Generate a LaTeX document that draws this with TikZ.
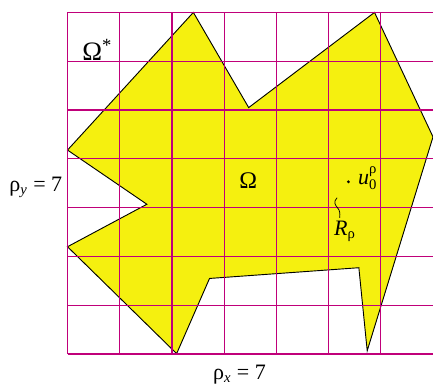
\documentclass[tikz,border=0pt]{standalone}
\usepackage{amsmath}
\usepackage{fontspec}
\setmainfont{Liberation Serif}
\usetikzlibrary{positioning}
\definecolor{gridline}{HTML}{C0007A}
\definecolor{region}{HTML}{F5F00F}

\begin{document}
\begin{tikzpicture}[x=1cm,y=0.935cm,font=\fontsize{12}{14}\selectfont,
  lbl/.style={inner sep=0pt,anchor=base west},
  mesh/.style={draw=gridline,line width=0.7pt}]
\useasboundingbox (-1.293,-0.635) rectangle (7,7.254);
% the domain
\filldraw[fill=region,draw=black,line width=0.5pt] (0,4.18) -- (2.41,7) -- (3.47,5.05) -- (5.88,7) -- (7,4.45) -- (5.74,0.07) -- (5.58,1.77) -- (2.72,1.55) -- (2.09,0.01) -- (0,2.2) -- (1.52,3.07) -- cycle;
% the grid
\foreach \i in {0,...,7} {\draw[mesh] (0,\i) -- (7,\i);}
\foreach \i in {0,...,6} {\draw[mesh] (\i,0) -- (\i,7);}
% labels
\node[lbl,font=\fontsize{14.5}{16}\selectfont] (omstar) at (0.278,6.01) {Ω\textsuperscript{*}};
\node[lbl,font=\fontsize{13}{15}\selectfont] (om) at (3.285,3.39) {Ω};
\node[lbl] (rhoy) at (-1.121,3.33) {ρ\textsubscript{\textit{y}} = 7};
\node[lbl] (rhox) at (2.78,-0.51) {ρ\textsubscript{\textit{x}} = 7};
\node[circle,fill=black,inner sep=0.6pt] (pt) at (5.38,3.53) {};
\node[lbl] (u0) at (5.56,3.48) {\textit{u}$_{\text{0}}^{\text{ρ}}$};
\node[lbl] (rr) at (5.10,2.44) {\textit{R}\textsubscript{ρ}};
\coordinate (sqtop) at (5.163,3.204);
\coordinate (sqbot) at (5.214,2.793);
\draw[line width=0.4pt] (sqtop) .. controls (5.09,3.12) and (5.12,3.06) .. (5.17,3.0) .. controls (5.22,2.94) and (5.22,2.88) .. (sqbot);
\end{tikzpicture}
\end{document}
